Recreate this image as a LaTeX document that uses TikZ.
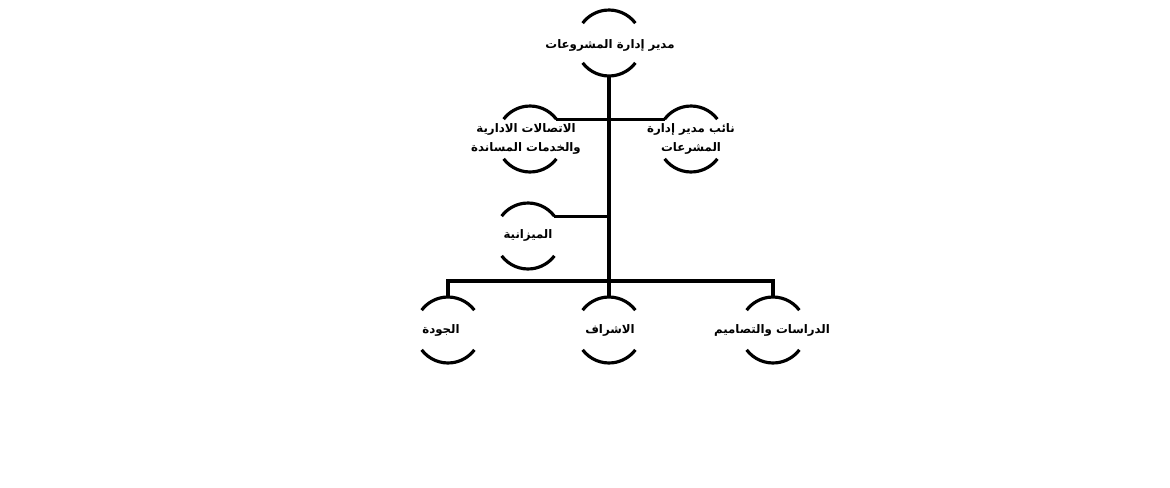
\documentclass[tikz,border=0pt]{standalone}
\usepackage{fontspec}
\TeXXeTstate=1
\newfontfamily\arabicfont[Script=Arabic]{DejaVu Sans}
\begin{document}
\begin{tikzpicture}[x=0.02cm, y=-0.02cm]
    \tikzset{unit/.style={circle, inner sep=0pt, outer sep=0pt,
        minimum size=1.32cm}}
    \tikzset{title/.style={font=\arabicfont\bfseries\fontsize{6.7}{11}\selectfont,
        align=center, inner sep=0pt}}
    \tikzset{line/.style={line width=1.8pt}}
    \useasboundingbox (0,0) rectangle (1170,487);

    \node (top) [unit] at (609,43) {};
    \node (comm) [unit] at (530,139) {};
    \node (deputy) [unit] at (691,139) {};
    \node (budget) [unit] at (528,236) {};
    \node (quality) [unit] at (448,330) {};
    \node (super) [unit] at (609,330) {};
    \node (studies) [unit] at (773,330) {};
    \coordinate (bar) at (609,281);

    \node (toptext) [title] at (610,45) {\beginR مدير إدارة المشروعات\endR};
    \node (commtext) [title] at (526,139)
        {\beginR الاتصالات الادارية\endR\\\beginR والخدمات  المساندة\endR};
    \node (deputytext) [title] at (691,139)
        {\beginR نائب مدير إدارة\endR\\\beginR المشرعات\endR};
    \node (budgettext) [title] at (528,235) {\beginR الميزانية\endR};
    \node (qualitytext) [title] at (441,330) {\beginR الجودة\endR};
    \node (supertext) [title] at (610,330) {\beginR الاشراف\endR};
    \node (studiestext) [title] at (772,330) {\beginR الدراسات والتصاميم\endR};

    \foreach \n in {top,comm,deputy,budget,quality,super,studies}
        \draw [line] (\n.37) arc[start angle=37, end angle=143, radius=0.66cm]
            (\n.217) arc[start angle=217, end angle=323, radius=0.66cm];

    \draw [line] (top.south) -- (super.north);
    \draw [line] (comm.37) -- (deputy.143);
    \draw [line] (budget.37) -- (budget.37 -| top.south);
    \draw [line] (quality.north) |- (bar) -| (studies.north);
\end{tikzpicture}
\end{document}
